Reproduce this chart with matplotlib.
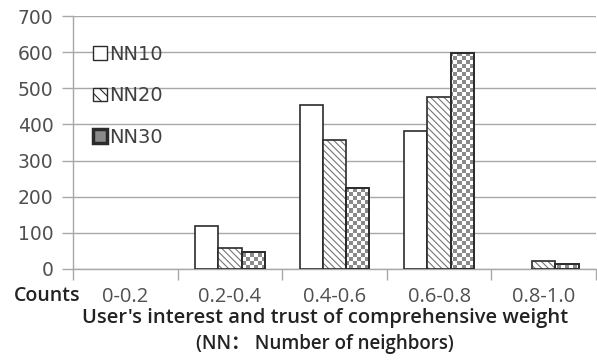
import numpy as np
import matplotlib
matplotlib.use("Agg")
import matplotlib.pyplot as plt
from matplotlib.patches import Rectangle
from matplotlib.font_manager import FontProperties

categories = ["0-0.2", "0.2-0.4", "0.4-0.6", "0.6-0.8", "0.8-1.0"]
nn10 = [0, 120, 453, 381, 0]
nn20 = [0, 57, 358, 476, 23]
nn30 = [0, 47, 223, 597, 13]
series_names = ["NN10", "NN20", "NN30"]
yticks = [0, 100, 200, 300, 400, 500, 600, 700]

plt.rcParams['hatch.linewidth'] = 0.8
W, H = 597, 363
fig = plt.figure(figsize=(W / 100, H / 100), dpi=100)
ax = fig.add_axes([73 / W, 1 - 269 / H, (596 - 73) / W, (269 - 16) / H])

x = np.arange(len(categories))
bw = 0.223
edge = '#2b2b2b'
grid_c = '#a8a8a8'


def lw_for(vals, lw):
    return [lw if v > 0 else 0 for v in vals]


# NN10 - white
ax.bar(x - bw, nn10, bw, color='white', edgecolor=edge, linewidth=lw_for(nn10, 1.2), zorder=3)
# NN20 - diagonal hatch
ax.bar(x, nn20, bw, color='white', edgecolor='#777777', hatch='\\\\\\\\\\', linewidth=0, zorder=3)
ax.bar(x, nn20, bw, fill=False, edgecolor=edge, linewidth=lw_for(nn20, 1.2), zorder=4)
# NN30 - checkerboard
b30 = ax.bar(x + bw, nn30, bw, color='white', edgecolor=edge, linewidth=0, zorder=3)
cell_x = 4 / 104.6
cell_y = 4 / 0.36
nx = int(np.ceil(5 / cell_x))
ny = int(np.ceil(700 / cell_y))
ii, jj = np.meshgrid(np.arange(nx), np.arange(ny))
checker = ((ii + jj) % 2).astype(float)
for rect in b30:
    if rect.get_height() <= 0:
        continue
    im = ax.imshow(checker, cmap=matplotlib.colors.ListedColormap(['white', '#8a8a8a']),
                   extent=(-0.5, -0.5 + nx * cell_x, 0, ny * cell_y), origin='lower',
                   interpolation='nearest', aspect='auto', zorder=3.5)
    im.set_clip_path(rect)
ax.bar(x + bw, nn30, bw, fill=False, edgecolor=edge, linewidth=lw_for(nn30, 1.4), zorder=4)

ax.set_xlim(-0.5, 4.5)
ax.set_ylim(0, 700)
ax.set_yticks(yticks)
ax.set_yticklabels([str(v) for v in yticks], fontsize=13.5, color='#505050', family='DejaVu Sans')
ax.yaxis.grid(True, color=grid_c, linewidth=1.0, zorder=0)
ax.set_axisbelow(True)
ax.tick_params(axis='y', length=8, color=grid_c, pad=6, width=1.0)

ax.set_xticks(x)
ax.set_xticklabels(categories, fontsize=14.5, color='#505050', family='Open Sans')
ax.tick_params(axis='x', which='major', length=0, pad=13)
ax.set_xticks(np.arange(-0.5, 5, 1), minor=True)
ax.tick_params(axis='x', which='minor', length=8, color=grid_c, width=1.0)

for s in ['top', 'right']:
    ax.spines[s].set_visible(False)
for s in ['left', 'bottom']:
    ax.spines[s].set_color(grid_c)
    ax.spines[s].set_linewidth(1.0)

# legend
h10 = Rectangle((0, 0), 1, 1, facecolor='white', edgecolor=edge, linewidth=1.0)
h20 = Rectangle((0, 0), 1, 1, facecolor='white', edgecolor=edge, linewidth=1.0, hatch='\\\\\\')
h30 = Rectangle((0, 0), 1, 1, facecolor='#8a8a8a', edgecolor=edge, linewidth=2.5)
leg = fig.legend([h10, h20, h30], series_names, loc='upper left',
                 bbox_to_anchor=(93 / W, 1 - 45 / H), frameon=False,
                 prop=FontProperties(family='DejaVu Sans', size=14),
                 handlelength=0.72, handleheight=0.72, handletextpad=0.1,
                 labelspacing=1.15, borderpad=0, borderaxespad=0)
for t in leg.get_texts():
    t.set_color('#404040')

fig.text(14 / W, 1 - 296 / H, "Counts", fontsize=14, fontweight='semibold', family='Open Sans',
         color='#222222', ha='left', va='center')
fig.text(325 / W, 1 - 318 / H, "User's interest and trust of comprehensive weight",
         fontsize=14.5, fontweight='semibold', family=['Open Sans', 'Noto Sans CJK SC'],
         color='#222222', ha='center', va='center')
fig.text(325 / W, 1 - 344 / H, "(NN\uff1a Number of neighbors)",
         fontsize=13.5, fontweight='semibold', family=['Open Sans', 'Noto Sans CJK SC'],
         color='#222222', ha='center', va='center')

fig.savefig("out.png", dpi=100)
